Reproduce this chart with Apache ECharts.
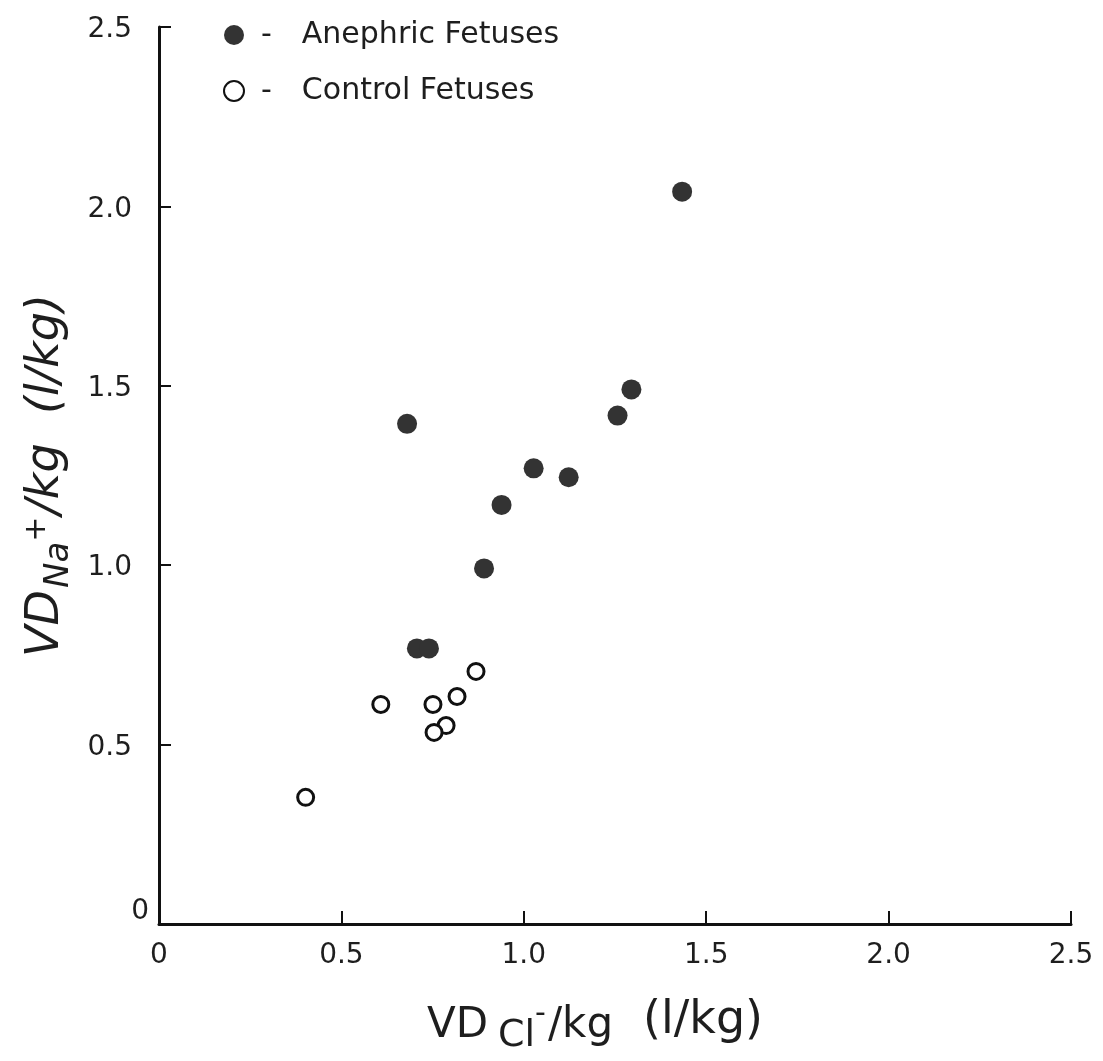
<!DOCTYPE html>
<html><head><meta charset="utf-8">
<script src="https://cdn.jsdelivr.net/npm/echarts@6/dist/echarts.min.js"></script>
<style>html,body{margin:0;padding:0;background:#fff}#c{width:1103px;height:1061px}</style>
</head><body><div id="c"></div>
<script>
const seriesNames = ['Anephric Fetuses', 'Control Fetuses'];
const anephricX = [1.434, 1.295, 1.257, 0.680, 1.027, 1.123, 0.939, 0.891, 0.707, 0.740];
const anephricY = [2.041, 1.490, 1.417, 1.394, 1.270, 1.245, 1.168, 0.991, 0.768, 0.768];
const controlX = [0.608, 0.751, 0.817, 0.869, 0.787, 0.754, 0.402];
const controlY = [0.612, 0.612, 0.634, 0.704, 0.553, 0.534, 0.353];
const xTicks = ['0', '0.5', '1.0', '1.5', '2.0', '2.5'];
const yTicks = ['0', '0.5', '1.0', '1.5', '2.0', '2.5'];

const pair = (xs, ys) => xs.map((x, i) => [x, ys[i]]);
const chart = echarts.init(document.getElementById('c'));
const font = 'DejaVu Sans';
const ink = '#1e1e1e';
chart.setOption({
  animation: false,
  backgroundColor: '#fff',
  grid: { left: 159, right: 32, top: 27, bottom: 137 },
  legend: {
    orient: 'vertical', left: 218, top: 15, itemGap: 26,
    itemWidth: 20, itemHeight: 20,
    formatter: n => '{d|-}{n|' + n + '}',
    textStyle: { fontFamily: font, fontSize: 30, color: ink,
      rich: {
        d: { fontFamily: font, fontSize: 30, color: ink, padding: [0, 30, 0, 12] },
        n: { fontFamily: font, fontSize: 30, color: ink }
      } },
    data: seriesNames
  },
  xAxis: {
    type: 'value', min: 0, max: 2.5, interval: 0.5,
    axisLine: { lineStyle: { color: '#111', width: 3 } },
    axisTick: { inside: true, length: 13, lineStyle: { color: '#111', width: 2 } },
    splitLine: { show: false },
    axisLabel: { margin: 18, fontFamily: font, fontSize: 28, color: ink,
      formatter: v => xTicks[Math.round(v / 0.5)] },
    name: '{b|VD}{s|Cl}{p|-}{b|/kg}{u|(l/kg)}',
    nameLocation: 'middle', nameGap: 74,
    nameTextStyle: { rich: {
      b: { fontFamily: font, fontSize: 42, color: ink, verticalAlign: 'bottom', padding: [0, 0, 8, 0] },
      s: { fontFamily: font, fontSize: 38, color: ink, verticalAlign: 'bottom', padding: [0, 0, 0, 10] },
      p: { fontFamily: font, fontSize: 30, color: ink, verticalAlign: 'bottom', padding: [0, 2, 26, 0] },
      u: { fontFamily: font, fontSize: 46, color: ink, verticalAlign: 'bottom', padding: [0, 40, 11, 30] }
    } }
  },
  yAxis: {
    type: 'value', min: 0, max: 2.5, interval: 0.5, offset: 2,
    axisLine: { show: true, lineStyle: { color: '#111', width: 3 } },
    axisTick: { show: true, inside: true, length: 12, lineStyle: { color: '#111', width: 2 } },
    splitLine: { show: false },
    axisLabel: { margin: 8, fontFamily: font, fontSize: 28, color: ink,
      formatter: v => v === 0 ? '{z|0}' : '{n|' + yTicks[Math.round(v / 0.5)] + '}',
      rich: {
        z: { fontFamily: font, fontSize: 28, color: ink, padding: [0, 0, 24, 0] },
        n: { fontFamily: font, fontSize: 28, color: ink, padding: [6, 17, 0, 0] }
      } },
    name: '{b|VD}{s|Na}{p|+}{b|/kg  (l/kg)}',
    nameLocation: 'middle', nameGap: 80, nameRotate: 90,
    nameTextStyle: { rich: {
      b: { fontFamily: font, fontSize: 46, fontStyle: 'italic', color: ink, verticalAlign: 'bottom', padding: [0, 0, 8, 0] },
      s: { fontFamily: font, fontSize: 34, fontStyle: 'italic', color: ink, verticalAlign: 'bottom', padding: [0, 0, 0, 2] },
      p: { fontFamily: font, fontSize: 30, color: ink, verticalAlign: 'bottom', padding: [0, 2, 24, 0] }
    } }
  },
  series: [
    { name: seriesNames[0], type: 'scatter', symbol: 'circle', symbolSize: 20,
      itemStyle: { color: '#333', opacity: 1 }, data: pair(anephricX, anephricY) },
    { name: seriesNames[1], type: 'scatter', symbol: 'circle', symbolSize: 16,
      itemStyle: { color: '#fff', borderColor: '#111', borderWidth: 3, opacity: 1 }, data: pair(controlX, controlY) }
  ]
});
</script></body></html>
